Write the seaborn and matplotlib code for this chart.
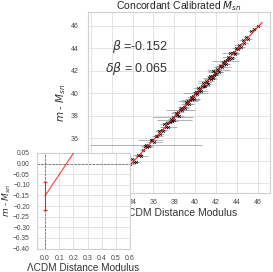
import numpy as np
import pandas as pd
import matplotlib
matplotlib.use("Agg")
import matplotlib.pyplot as plt
import seaborn as sns

### LCDM distance modulus of each SN
mu_lcdm = [33.42, 33.61, 33.78, 33.95, 34.12, 34.30, 34.47, 34.66, 34.85, 35.02,
           35.21, 35.30, 35.40, 35.57, 35.74, 35.90, 36.08, 36.22, 36.37, 36.51,
           36.66, 36.80, 36.93, 37.05, 37.18, 37.30, 37.42, 37.55, 37.66, 37.78,
           37.90, 38.01, 38.12, 38.24, 38.35, 38.46, 38.57, 38.68, 38.79, 38.90,
           39.00, 39.11, 39.21, 39.32, 39.42, 39.52, 39.63, 39.73, 39.83, 39.93,
           40.03, 40.12, 40.22, 40.31, 40.41, 40.50, 40.60, 40.69, 40.78, 40.87,
           40.96, 41.05, 41.14, 41.23, 41.32, 41.41, 41.50, 41.59, 41.68, 41.77,
           41.86, 41.95, 42.04, 42.13, 42.22, 42.31, 42.40, 42.50, 42.59, 42.68,
           42.78, 42.88, 42.98, 43.08, 43.18, 43.29, 43.40, 43.51, 43.62, 43.74,
           43.86, 43.98, 44.11, 44.25, 44.40, 44.56, 44.73, 44.92, 45.13, 45.38,
           45.70, 46.05]
### m - M_sn
m_minus_M = [33.39, 33.25, 33.68, 34.10, 33.89, 33.90, 34.50, 34.53, 34.37, 34.97,
             35.28, 35.40, 35.20, 35.25, 35.87, 35.82, 35.63, 36.21, 36.20, 36.61,
             36.32, 36.74, 36.66, 37.21, 36.97, 37.31, 37.00, 37.43, 37.71, 37.48,
             37.86, 37.63, 38.23, 38.05, 38.33, 38.00, 38.50, 38.72, 38.54, 38.77,
             38.65, 39.25, 38.99, 39.32, 39.01, 39.43, 39.69, 39.45, 39.72, 39.50,
             40.05, 40.07, 39.89, 40.43, 40.23, 40.47, 40.21, 40.62, 40.86, 40.63,
             40.65, 41.08, 41.00, 40.79, 41.31, 41.50, 41.24, 41.49, 41.32, 41.94,
             41.65, 41.89, 41.72, 42.18, 42.06, 41.91, 42.38, 42.42, 42.30, 42.79,
             42.55, 42.89, 42.61, 42.96, 43.22, 43.02, 43.53, 43.17, 43.53, 43.70,
             43.44, 44.05, 43.91, 44.25, 44.07, 44.75, 44.48, 45.02, 44.78, 45.53,
             45.67, 45.95]
### error on distance modulus
mu_err = [0.35, 0.25, 0.40, 0.30, 0.50, 0.30, 0.45, 0.35, 0.60, 0.30,
          0.40, 5.40, 0.50, 0.35, 1.20, 0.45, 0.70, 0.30, 0.55, 0.40,
          0.35, 0.60, 0.30, 0.45, 0.50, 0.35, 0.80, 0.40, 0.30, 0.55,
          1.90, 1.70, 0.40, 0.35, 0.60, 0.50, 1.40, 0.30, 0.45, 0.55,
          0.40, 0.35, 0.60, 1.00, 0.45, 0.90, 0.40, 0.70, 0.35, 0.50,
          1.20, 0.40, 0.30, 0.55, 0.45, 0.35, 0.60, 0.40, 0.50, 0.30,
          0.45, 0.80, 0.35, 0.40, 0.55, 0.30, 0.60, 0.45, 0.35, 0.50,
          0.40, 0.70, 0.30, 0.45, 1.10, 0.35, 0.50, 0.40, 0.90, 0.30,
          0.55, 1.30, 0.40, 0.35, 0.60, 0.45, 0.80, 0.30, 0.50, 0.40,
          0.35, 0.45, 0.30, 0.50, 0.40, 0.30, 0.35, 0.25, 0.30, 0.30,
          0.20, 0.25]

beta = -0.152
dbeta = 0.065
fit_x = [0.0, 46.45]

df = pd.DataFrame({'mu': mu_lcdm, 'mM': m_minus_M, 'err': mu_err})
fit = pd.DataFrame({'x': fit_x, 'y': np.array(fit_x) + beta})

sns.set_style("whitegrid")
plt.rcParams['font.family'] = ['Liberation Sans', 'DejaVu Sans']
plt.rcParams['axes.edgecolor'] = '#d0d0d0'
plt.rcParams['grid.color'] = '#e4e4e4'
plt.rcParams['grid.linewidth'] = 0.7

fig = plt.figure(figsize=(2.73, 2.72), dpi=100)

### main panel
ax = fig.add_axes([0.322, 0.290, 0.667, 0.665])
ax.errorbar(df['mu'], df['mM'], xerr=df['err'], fmt='none', ecolor='gray',
            elinewidth=0.6, alpha=0.7, zorder=2)
sns.scatterplot(data=df, x='mu', y='mM', marker='x', color='k', s=4,
                linewidth=0.5, ax=ax, zorder=3)
sns.lineplot(data=fit, x='x', y='y', color='red', lw=0.8, alpha=0.85, ax=ax, zorder=4)
ax.set_xlim(29.7, 47.2)
ax.set_ylim(31.1, 47.2)
ax.xaxis.set_major_locator(plt.MultipleLocator(2))
ax.yaxis.set_major_locator(plt.MultipleLocator(2))
ax.tick_params(axis='x', labelsize=5, colors='#444444', pad=1)
ax.tick_params(axis='y', labelsize=5, colors='#444444', pad=3)
ax.set_xlabel('ΛCDM Distance Modulus', fontsize=7.5, labelpad=1, color='#333333')
ax.set_ylabel('$m$ - $M_{sn}$', fontsize=7.5, labelpad=2, color='#333333')
ax.set_title('Concordant Calibrated $M_{sn}$', fontsize=7.5, pad=2)
ax.text(0.44, 0.79, r'$\beta$ =-0.152', transform=ax.transAxes, ha='right', fontsize=9, color='#333333')
ax.text(0.44, 0.668, r'$\delta\beta$ = 0.065', transform=ax.transAxes, ha='right', fontsize=9, color='#333333')

### inset zoom on the intercept
ax2 = fig.add_axes([0.135, 0.086, 0.341, 0.352])
ax2.set_facecolor('white')
ax2.axhline(0, ls='--', color='#555555', lw=0.5, zorder=1)
ax2.axvline(0, ls='--', color='#555555', lw=0.5, zorder=1)
ax2.errorbar([0.0], [beta], yerr=[dbeta], fmt='none', ecolor='red', elinewidth=0.8,
             capsize=1.2, alpha=0.8, zorder=3)
sns.lineplot(data=fit, x='x', y='y', color='red', lw=0.8, alpha=0.75, ax=ax2, zorder=3)
ax2.set_xlim(-0.058, 0.6)
ax2.set_ylim(-0.4, 0.05)
ax2.set_yticks(np.arange(-0.40, 0.051, 0.05))
ax2.set_xticks(np.arange(0.0, 0.61, 0.1))
ax2.tick_params(axis='x', labelsize=5.0, colors='#444444', pad=1)
ax2.tick_params(axis='y', labelsize=4.8, colors='#444444', pad=1.5)
ax2.set_xlabel('ΛCDM Distance Modulus', fontsize=7.2, labelpad=0.5, color='#333333')
ax2.set_ylabel('$m$ - $M_{sn}$', fontsize=6.5, color='#333333', va='center')
ax2.yaxis.set_label_coords(-0.32, 0.5)

fig.savefig('out.png', dpi=100)
